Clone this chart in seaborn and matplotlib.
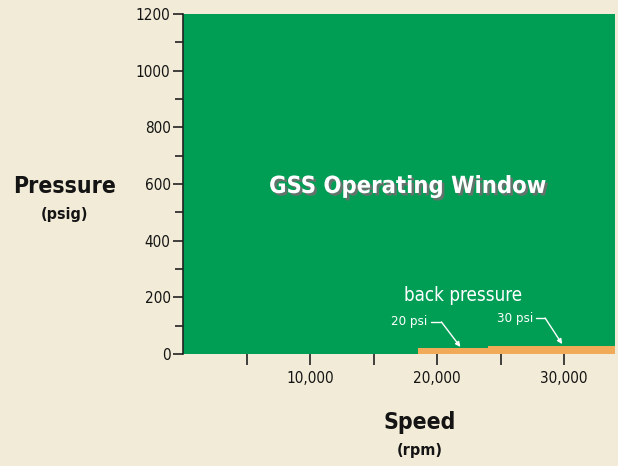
import matplotlib
matplotlib.use("Agg")
import matplotlib.pyplot as plt
import matplotlib.patheffects as pe
from matplotlib import font_manager
from matplotlib.ticker import MultipleLocator, FuncFormatter
import seaborn as sns

# ---- data ----
speed_range = [0, 34000]          # rpm extent of the operating window
max_pressure = 1200               # psig
bp_start = [18500, 24000]         # back-pressure segment start speeds
bp_end = [24000, 34000]           # back-pressure segment end speeds
bp_psi = [20, 30]                 # back pressure (psi)
bp_labels = ["20 psi", "30 psi"]
x_major = [10000, 20000, 30000]
x_minor = [5000, 15000, 25000]
y_ticks = [0, 200, 400, 600, 800, 1000, 1200]

sns.set_style("ticks")
plt.rcParams["font.family"] = ["DejaVu Sans"]
plt.rcParams["font.stretch"] = "condensed"

GREEN = "#009E55"
ORANGE = "#F0AA58"
BG = "#F2EBD7"
INK = "#141414"

fig = plt.figure(figsize=(6.18, 4.66), dpi=100, facecolor=BG)
ax = fig.add_axes([183/618, 1-354/466, 432/618, 340/466])
ax.set_facecolor(BG)

ax.fill_between(speed_range, [0, 0], [max_pressure, max_pressure], color=GREEN, lw=0, zorder=1)
widths = [e - s for s, e in zip(bp_start, bp_end)]
ax.bar(bp_start, bp_psi, width=widths, align="edge", color=ORANGE, lw=0, zorder=2)

ax.set_xlim(speed_range)
ax.set_ylim(0, max_pressure)

for s in ["top", "right", "bottom"]:
    ax.spines[s].set_visible(False)
ax.spines["left"].set_color("#222222")
ax.spines["left"].set_linewidth(1.2)
ax.spines["left"].set_zorder(5)

ax.set_xticks(x_major)
ax.set_xticks(x_minor, minor=True)
ax.xaxis.set_major_formatter(FuncFormatter(lambda v, p: f"{int(v):,}"))
ax.set_yticks(y_ticks)
ax.yaxis.set_minor_locator(MultipleLocator(100))
tick_font = dict(family="DejaVu Sans", stretch="condensed", size=11)
ax.tick_params(axis="x", which="both", length=8, width=1.2, color="#222222",
               labelsize=11, pad=4, labelcolor=INK)
ax.tick_params(axis="y", which="major", length=7, width=1.2, color="#222222",
               labelsize=11, pad=2, labelcolor=INK)
ax.tick_params(axis="y", which="minor", length=6, width=1.2, color="#222222")
for lab in ax.get_xticklabels() + ax.get_yticklabels():
    lab.set_fontstretch("condensed")

shadow = [pe.SimplePatchShadow(offset=(1.8, -1.8), shadow_rgbFace="#6f6f6f", alpha=0.9), pe.Normal()]
ax.text(17670, 593, "GSS Operating Window", color="white", fontsize=17, fontweight="bold",
        fontstretch="condensed", ha="center", va="center", path_effects=shadow, zorder=6)

ax.text(22060, 205, "back pressure", color="white", fontsize=13.5, fontstretch="condensed",
        ha="center", va="center", zorder=6)
ax.text(17820, 113, bp_labels[0], color="white", fontsize=9.5, fontstretch="condensed",
        ha="center", va="center", zorder=6)
ax.text(26150, 127, bp_labels[1], color="white", fontsize=9.5, fontstretch="condensed",
        ha="center", va="center", zorder=6)

for (x0, x1, y0), (tx, ty) in [((19550, 20340, 113), (21830, 25)),
                               ((27800, 28500, 127), (29840, 35))]:
    ax.plot([x0, x1], [y0, y0], color="white", lw=1, zorder=6)
    ax.annotate("", xy=(tx, ty), xytext=(x1, y0),
                arrowprops=dict(arrowstyle="-|>", color="white", lw=1,
                                mutation_scale=7, shrinkA=0, shrinkB=0), zorder=6)

lab_kw = dict(fontweight="bold", fontstretch="condensed", ha="center", va="center", color=INK)
fig.text(65/618, 1-186/466, "Pressure", fontsize=16.5, **lab_kw)
fig.text(65/618, 1-215/466, "(psig)", fontsize=11.5, **lab_kw)
fig.text(420/618, 1-423/466, "Speed", fontsize=16.5, **lab_kw)
fig.text(420/618, 1-450/466, "(rpm)", fontsize=11.5, **lab_kw)

fig.savefig("out.png", dpi=100, facecolor=BG)
